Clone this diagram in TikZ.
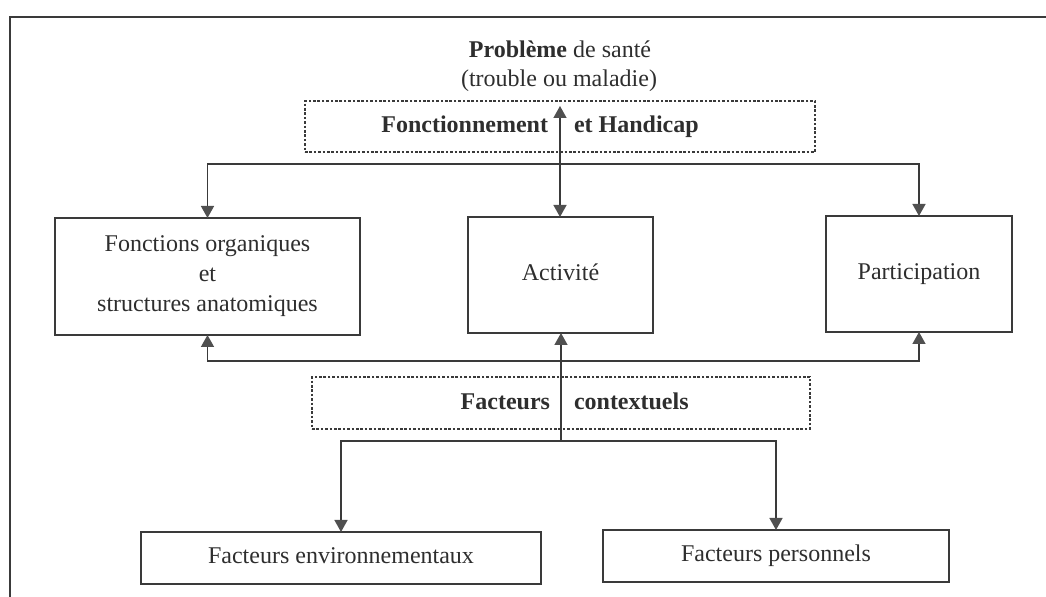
\documentclass[tikz,border=0pt]{standalone}
\usepackage{fontspec}
\setmainfont{Liberation Serif}
\usetikzlibrary{arrows.meta}
\definecolor{ink}{HTML}{2E2E2E}
\definecolor{rule}{HTML}{3A3A3A}
\definecolor{tipgray}{HTML}{505050}

\begin{document}
\begin{tikzpicture}[x=0.5pt,y=-0.5pt,
  every node/.style={font=\fontsize{12}{15}\selectfont, text=ink, inner sep=0pt, outer sep=0pt},
  solidbox/.style={draw=rule, line width=0.75pt, align=center},
  dotbox/.style={draw=rule, line width=0.75pt, dash pattern=on 1.3pt off 0.9pt},
  link/.style={draw=rule, line width=0.7pt},
  tipend/.style={-{Triangle[length=6pt,width=6.5pt,color=tipgray,fill=tipgray]}},
  tipboth/.style={{Triangle[length=6pt,width=6.5pt,color=tipgray,fill=tipgray]}-{Triangle[length=6pt,width=6.5pt,color=tipgray,fill=tipgray]}},
  lbl/.style={text height=8.2pt, text depth=2.6pt}
]
% page and outer frame
\useasboundingbox (0,0) rectangle (1046,597);
\fill[white] (0,0) rectangle (1046,597);
\draw[rule, line width=1pt] (10,597) -- (10,17) -- (1046,17);

% heading
\node[anchor=base] (prob) at (560,58) {\textbf{Problème} de santé};
\node[anchor=base] (probsub) at (559,87) {(trouble ou maladie)};

% functioning and disability
\node[dotbox, minimum width=255pt, minimum height=25.5pt] (fh) at (560,126.5) {};
\node[anchor=base east, font=\fontsize{12}{15}\selectfont\bfseries] (fhl) at (548,133) {Fonctionnement};
\node[anchor=base west, font=\fontsize{12}{15}\selectfont\bfseries] (fhr) at (574,133) {et Handicap};

\node[solidbox, minimum width=152.5pt, minimum height=58.5pt] (fonc) at (207.5,276.5)
  {Fonctions organiques\\et\\structures anatomiques};
\node[solidbox, lbl, minimum width=92.5pt, minimum height=58pt] (act) at (560.5,275) {Activité};
\node[solidbox, lbl, minimum width=93pt, minimum height=58pt] (part) at (919,274) {Participation};

% contextual factors
\node[dotbox, minimum width=249pt, minimum height=26pt] (fc) at (561,403) {};
\node[anchor=base east, font=\fontsize{12}{15}\selectfont\bfseries] (fcl) at (550,410) {Facteurs};
\node[anchor=base west, font=\fontsize{12}{15}\selectfont\bfseries] (fcr) at (574,410) {contextuels};

\node[solidbox, lbl, minimum width=200pt, minimum height=26pt] (env) at (341,558) {Facteurs environnementaux};
\node[solidbox, lbl, minimum width=173pt, minimum height=26pt] (pers) at (776,556) {Facteurs personnels};

% junction points
\coordinate (probtip) at (560,106);
\coordinate (bustop) at (560,164);
\coordinate (busbot) at (561,361);
\coordinate (split) at (561,441);

% connectors
\draw[link, tipboth] (probtip) -- (probtip |- act.north);
\draw[link, tipend] (bustop) -| (fonc.north);
\draw[link, tipend] (bustop) -| (part.north);
\draw[link, tipend] (busbot) -| (fonc.south);
\draw[link, tipend] (busbot) -| (part.south);
\draw[link, tipend] (split) -- (split |- act.south);
\draw[link, tipend] (split) -| (env.north);
\draw[link, tipend] (split) -| (pers.north);
\end{tikzpicture}
\end{document}
